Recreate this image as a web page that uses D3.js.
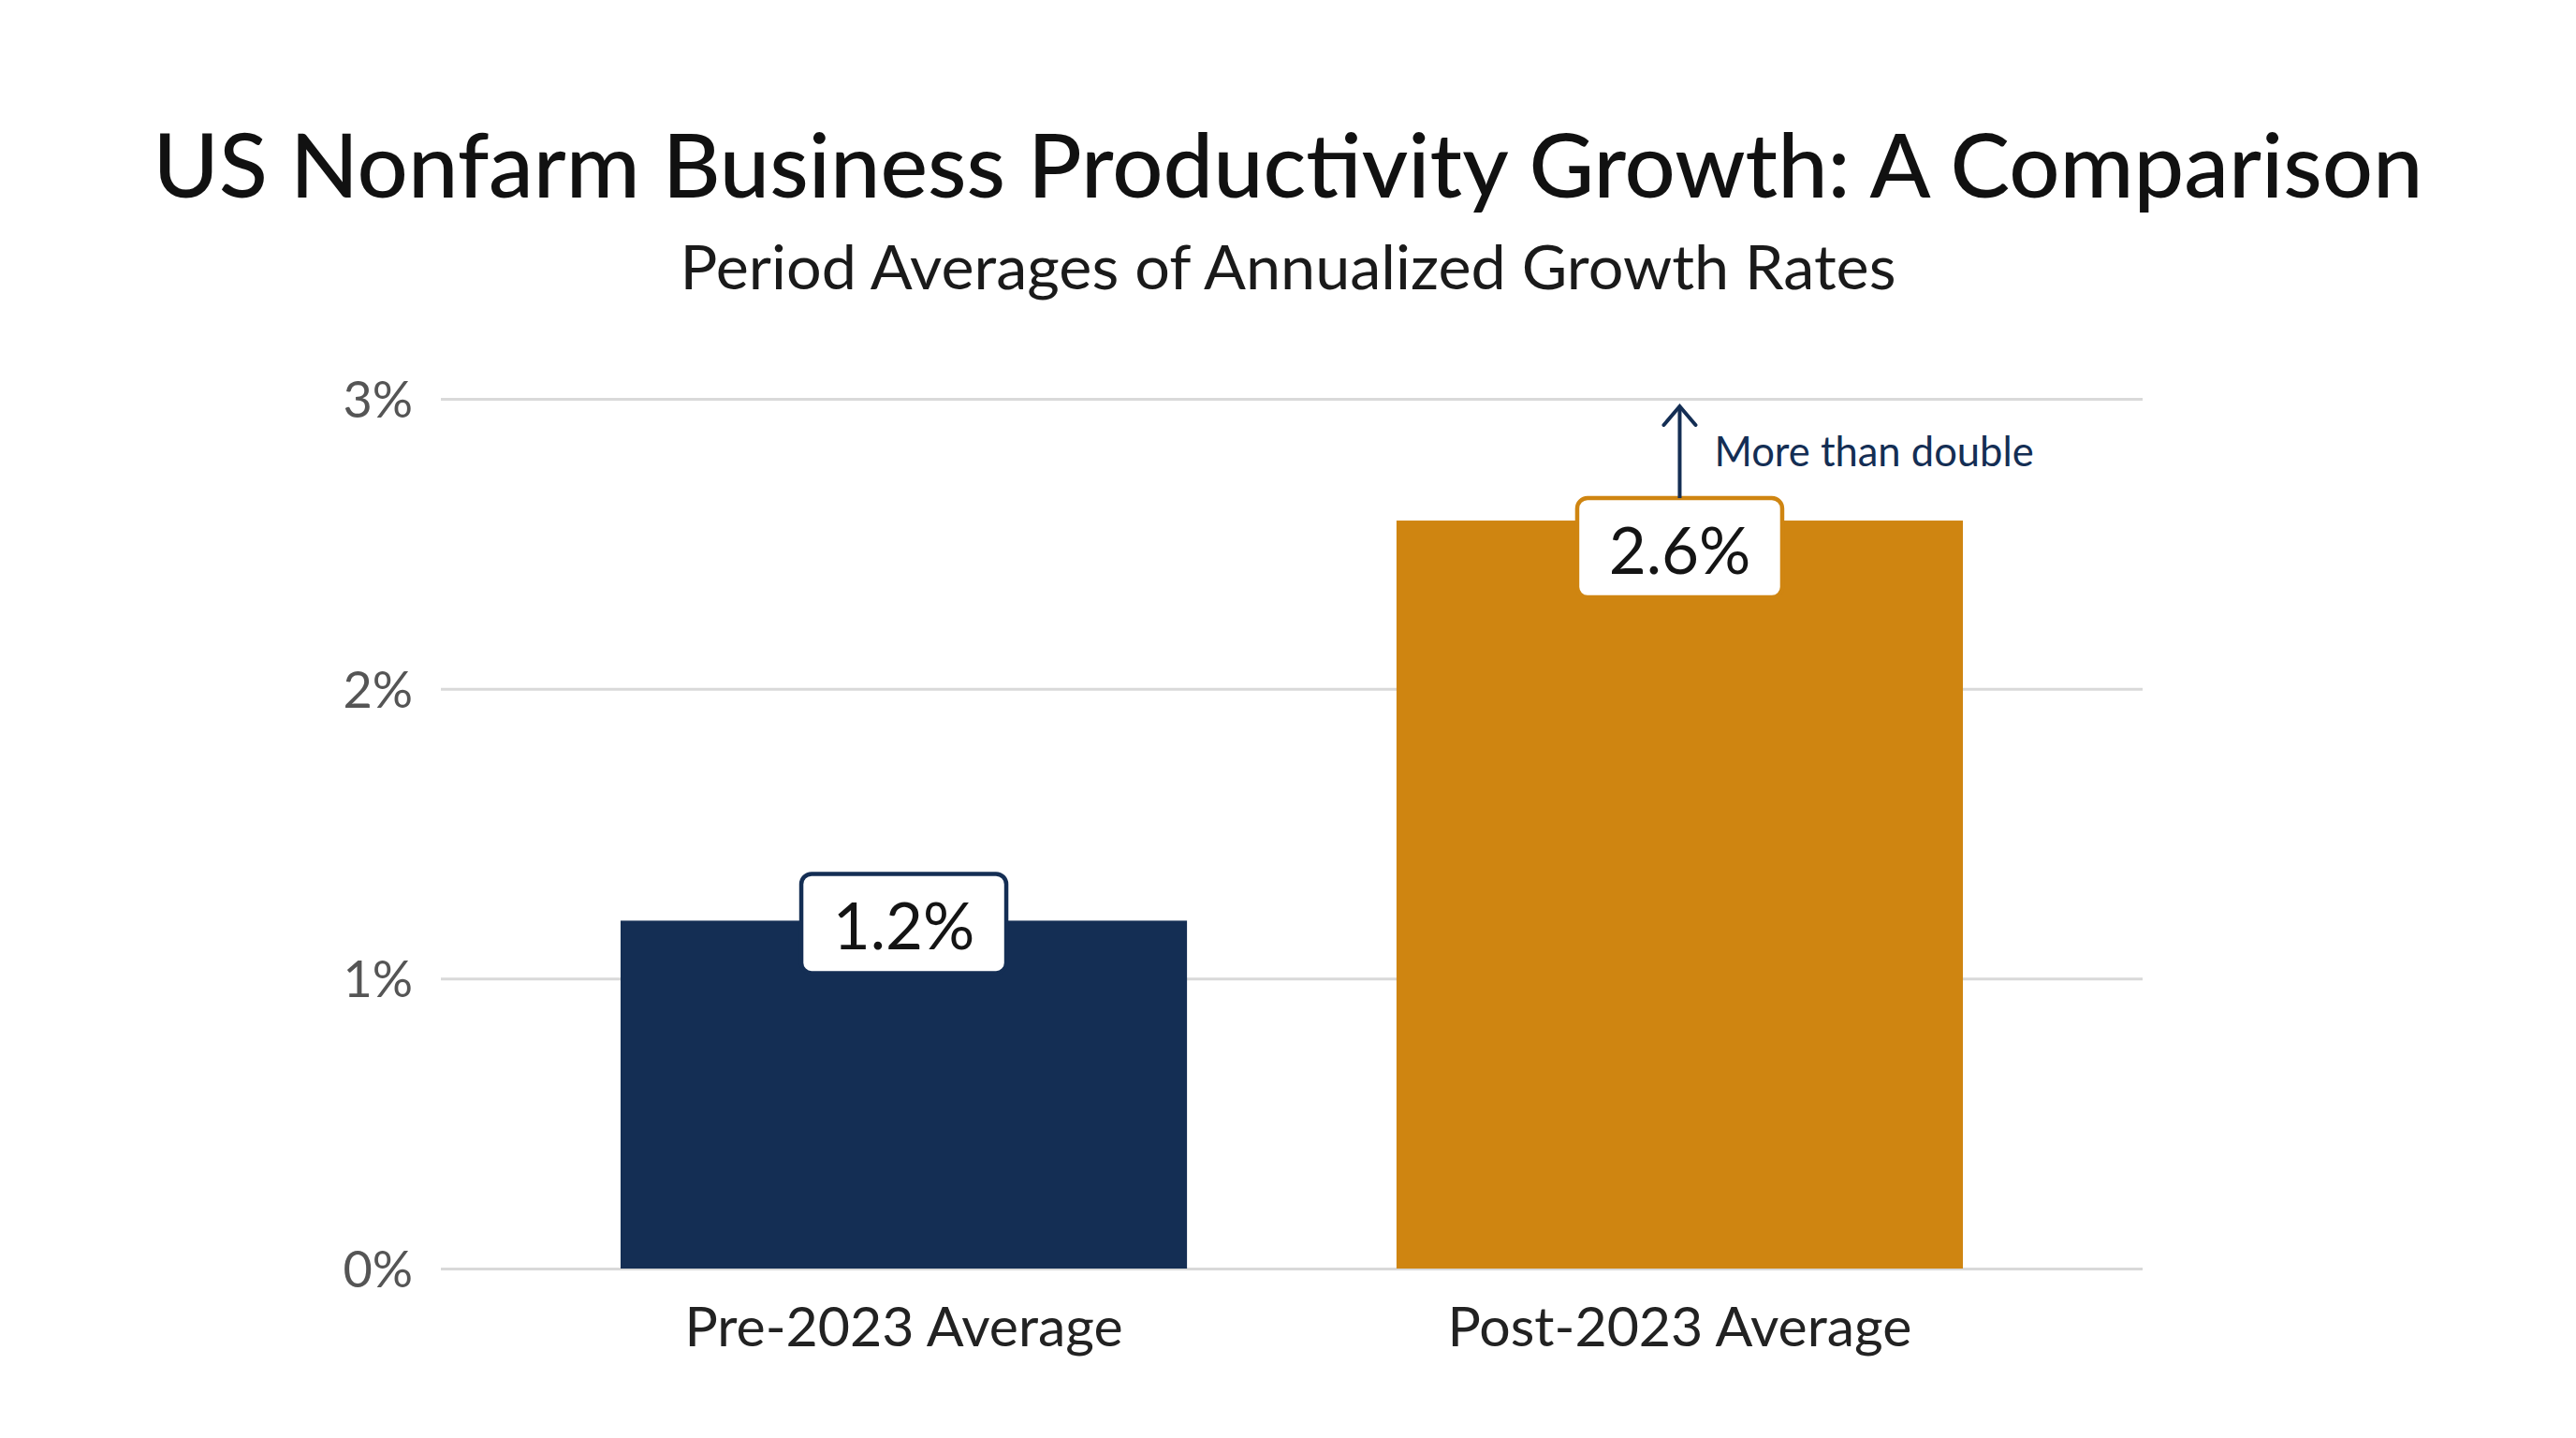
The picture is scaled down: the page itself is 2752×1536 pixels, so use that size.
<!DOCTYPE html>
<html>
<head>
<meta charset="utf-8">
<script src="https://cdn.jsdelivr.net/npm/d3@7"></script>
<style>
  html, body { margin: 0; padding: 0; background: #ffffff; }
  svg { display: block; }
  text { font-family: Lato, "Noto Sans", sans-serif; }
</style>
</head>
<body>
<svg id="chart" width="2752" height="1536"></svg>
<script>
// ---- data ----
const categories = ["Pre-2023 Average", "Post-2023 Average"];
const values = [1.2, 2.58];
const valueLabels = ["1.2%", "2.6%"];
const yTicks = [0, 1, 2, 3];
const titleText = "US Nonfarm Business Productivity Growth: A Comparison";
const subtitleText = "Period Averages of Annualized Growth Rates";
const annotationText = "More than double";

// ---- styles / layout ----
const W = 2752, H = 1536;
const colors = ["#142e54", "#cf8511"];
const plot = { left: 471, right: 2289, top: 426, bottom: 1355 };
const labelLift = [50, 24];   // how far label boxes rise above the bar top
const boxW = 219, boxH = 106;

const svg = d3.select("#chart");
svg.append("rect").attr("width", W).attr("height", H).attr("fill", "#ffffff");

// title
svg.append("text")
  .attr("x", W / 2).attr("y", 211)
  .attr("text-anchor", "middle")
  .attr("font-size", 95.5).attr("font-weight", 500)
  .attr("fill", "#111111")
  .text(titleText);

svg.append("text")
  .attr("x", W / 2).attr("y", 309)
  .attr("text-anchor", "middle")
  .attr("font-size", 66.5)
  .attr("fill", "#1a1a1a")
  .text(subtitleText);

// scales
const x = d3.scaleBand()
  .domain(categories)
  .range([plot.left, plot.right])
  .paddingInner(0.27)
  .paddingOuter(0.2316);

const y = d3.scaleLinear()
  .domain([0, 3])
  .range([plot.bottom, plot.top]);

// y axis with gridlines
const yAxis = d3.axisLeft(y)
  .tickValues(yTicks)
  .tickFormat(d => d + "%")
  .tickSize(-(plot.right - plot.left))
  .tickPadding(30);

const gy = svg.append("g")
  .attr("transform", `translate(${plot.left},0)`)
  .call(yAxis);
gy.select(".domain").remove();
gy.selectAll(".tick line").attr("stroke", "#d9d9d9").attr("stroke-width", 3);
gy.selectAll(".tick text")
  .attr("font-size", 54)
  .attr("fill", "#555555")
  .attr("dy", "0.36em")
  .attr("font-family", "Lato, 'Noto Sans', sans-serif");

// bars
const data = categories.map((c, i) => ({ c, v: values[i], label: valueLabels[i], color: colors[i], lift: labelLift[i] }));

svg.append("g").selectAll("rect")
  .data(data)
  .join("rect")
  .attr("x", d => x(d.c))
  .attr("y", d => y(d.v))
  .attr("width", x.bandwidth())
  .attr("height", d => y(0) - y(d.v))
  .attr("fill", d => d.color);

// x axis labels
const xAxis = d3.axisBottom(x).tickSize(0).tickPadding(41);
const gx = svg.append("g")
  .attr("transform", `translate(0,${plot.bottom})`)
  .call(xAxis);
gx.select(".domain").remove();
gx.selectAll(".tick text")
  .attr("font-size", 59)
  .attr("fill", "#222222")
  .attr("font-family", "Lato, 'Noto Sans', sans-serif");

// value label boxes
const lg = svg.append("g").selectAll("g")
  .data(data)
  .join("g")
  .attr("transform", d => `translate(${x(d.c) + x.bandwidth() / 2},${y(d.v) - d.lift})`);

lg.append("rect")
  .attr("x", -boxW / 2).attr("y", 0)
  .attr("width", boxW).attr("height", boxH)
  .attr("rx", 11)
  .attr("fill", "#ffffff")
  .attr("stroke", d => d.color)
  .attr("stroke-width", 4.5);

lg.append("text")
  .attr("x", 0).attr("y", 81)
  .attr("text-anchor", "middle")
  .attr("font-size", 69)
  .attr("fill", "#141414")
  .text(d => d.label);

// annotation arrow
const post = data[1];
const cx = x(post.c) + x.bandwidth() / 2;
const boxTop = y(post.v) - post.lift;
const tipY = y(3) + 8;
const navy = "#142e54";
svg.append("line")
  .attr("x1", cx).attr("x2", cx)
  .attr("y1", boxTop).attr("y2", tipY + 2)
  .attr("stroke", navy).attr("stroke-width", 4);
svg.append("path")
  .attr("d", `M${cx - 17},${tipY + 20} L${cx},${tipY} L${cx + 17},${tipY + 20}`)
  .attr("fill", "none")
  .attr("stroke", navy).attr("stroke-width", 4)
  .attr("stroke-linecap", "round").attr("stroke-linejoin", "miter");
svg.append("text")
  .attr("x", cx + 37).attr("y", y(3) + 72)
  .attr("font-size", 43.5)
  .attr("fill", navy)
  .text(annotationText);
</script>
</body>
</html>
